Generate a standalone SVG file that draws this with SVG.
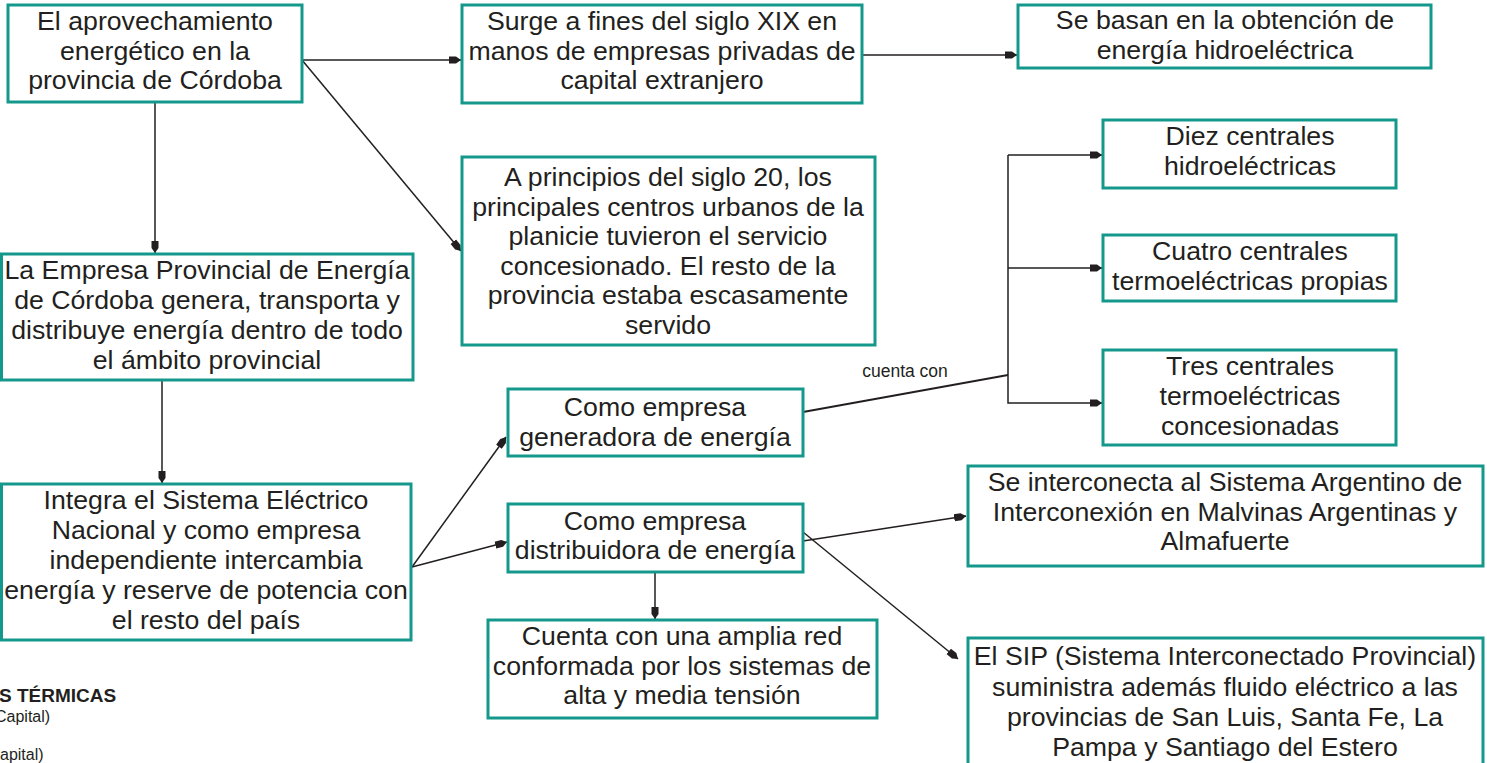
<svg xmlns="http://www.w3.org/2000/svg" width="1487" height="763" viewBox="0 0 1487 763">
<defs>
<style>
.box{fill:#fff;stroke:#14988b;stroke-width:3}
.t{font-family:"Liberation Sans",Arial,sans-serif;font-size:26.7px;fill:#231f20;text-anchor:middle}
.c{fill:none;stroke:#231f20;stroke-width:1.5}
.lbl{font-family:"Liberation Sans",Arial,sans-serif;font-size:17.5px;fill:#231f20;text-anchor:middle}
.side{font-family:"Liberation Sans",Arial,sans-serif;fill:#231f20}
</style>
<marker id="ah" viewBox="0 0 12 10" refX="12" refY="5" markerWidth="12" markerHeight="10" markerUnits="userSpaceOnUse" orient="auto">
<path d="M0,1.5 L7,1.5 L12,5 L7,8.5 L0,8.5 z" fill="#231f20"/>
</marker>
</defs>
<rect width="1487" height="763" fill="#fff"/>

<g id="connectors">
<line class="c" x1="155" y1="102" x2="155" y2="253" marker-end="url(#ah)"/>
<line class="c" x1="302" y1="60" x2="461" y2="60" marker-end="url(#ah)"/>
<line class="c" x1="302" y1="60" x2="461" y2="251" marker-end="url(#ah)"/>
<line class="c" x1="862" y1="55" x2="1017" y2="55" marker-end="url(#ah)"/>
<line class="c" x1="162" y1="380" x2="162" y2="483" marker-end="url(#ah)"/>
<line class="c" x1="412" y1="567" x2="506" y2="437" marker-end="url(#ah)"/>
<line class="c" x1="412" y1="567" x2="507" y2="542" marker-end="url(#ah)"/>
<line class="c" x1="803" y1="541" x2="966" y2="516" marker-end="url(#ah)"/>
<line class="c" x1="803" y1="532" x2="958" y2="659" marker-end="url(#ah)"/>
<line class="c" x1="655" y1="572" x2="655" y2="619" marker-end="url(#ah)"/>
<line class="c" x1="803" y1="412" x2="1008" y2="375" style="stroke-width:2"/>
<polyline class="c" points="1008,155 1008,403 1102,403" marker-end="url(#ah)"/>
<line class="c" x1="1008" y1="155" x2="1102" y2="155" marker-end="url(#ah)"/>
<line class="c" x1="1008" y1="268" x2="1102" y2="268" marker-end="url(#ah)"/>
<text class="lbl" x="905" y="377">cuenta con</text>
</g>

<g id="nodeA">
<rect class="box" x="8" y="5" width="294" height="97"/>
<text class="t" x="155" y="30">El aprovechamiento</text>
<text class="t" x="155" y="59.5">energético en la</text>
<text class="t" x="155" y="89">provincia de Córdoba</text>
</g>

<g id="nodeB">
<rect class="box" x="462" y="5" width="400" height="98"/>
<text class="t" x="662" y="30">Surge a fines del siglo XIX en</text>
<text class="t" x="662" y="59.5">manos de empresas privadas de</text>
<text class="t" x="662" y="89">capital extranjero</text>
</g>

<g id="nodeC">
<rect class="box" x="1018" y="5" width="413" height="63"/>
<text class="t" x="1225" y="29">Se basan en la obtención de</text>
<text class="t" x="1225" y="58.5">energía hidroeléctrica</text>
</g>

<g id="nodeD">
<rect class="box" x="462" y="157" width="413" height="188"/>
<text class="t" x="668" y="186">A principios del siglo 20, los</text>
<text class="t" x="668" y="215.5">principales centros urbanos de la</text>
<text class="t" x="668" y="245">planicie tuvieron el servicio</text>
<text class="t" x="668" y="275">concesionado. El resto de la</text>
<text class="t" x="668" y="304">provincia estaba escasamente</text>
<text class="t" x="668" y="334">servido</text>
</g>

<g id="nodeE">
<rect class="box" x="1103" y="120" width="293" height="68"/>
<text class="t" x="1250" y="145">Diez centrales</text>
<text class="t" x="1250" y="175">hidroeléctricas</text>
</g>

<g id="nodeF">
<rect class="box" x="1103" y="235" width="293" height="66"/>
<text class="t" x="1250" y="260">Cuatro centrales</text>
<text class="t" x="1250" y="290">termoeléctricas propias</text>
</g>

<g id="nodeG">
<rect class="box" x="1103" y="350" width="293" height="95"/>
<text class="t" x="1250" y="375">Tres centrales</text>
<text class="t" x="1250" y="405">termoeléctricas</text>
<text class="t" x="1250" y="435">concesionadas</text>
</g>

<g id="nodeH">
<rect class="box" x="1.5" y="254" width="411.5" height="126"/>
<text class="t" x="207" y="279">La Empresa Provincial de Energía</text>
<text class="t" x="207" y="309">de Córdoba genera, transporta y</text>
<text class="t" x="207" y="339">distribuye energía dentro de todo</text>
<text class="t" x="207" y="369">el ámbito provincial</text>
</g>

<g id="nodeI">
<rect class="box" x="508" y="389" width="295" height="67"/>
<text class="t" x="655" y="416">Como empresa</text>
<text class="t" x="655" y="446">generadora de energía</text>
</g>

<g id="nodeJ">
<rect class="box" x="1.5" y="484" width="409.5" height="156"/>
<text class="t" x="206" y="509">Integra el Sistema Eléctrico</text>
<text class="t" x="206" y="539">Nacional y como empresa</text>
<text class="t" x="206" y="569">independiente intercambia</text>
<text class="t" x="206" y="599">energía y reserve de potencia con</text>
<text class="t" x="206" y="629">el resto del país</text>
</g>

<g id="nodeK">
<rect class="box" x="508" y="504" width="295" height="68"/>
<text class="t" x="655" y="530">Como empresa</text>
<text class="t" x="655" y="559">distribuidora de energía</text>
</g>

<g id="nodeL">
<rect class="box" x="968" y="466" width="515" height="100"/>
<text class="t" x="1225" y="491">Se interconecta al Sistema Argentino de</text>
<text class="t" x="1225" y="521">Interconexión en Malvinas Argentinas y</text>
<text class="t" x="1225" y="550">Almafuerte</text>
</g>

<g id="nodeM">
<rect class="box" x="488" y="620" width="389" height="98"/>
<text class="t" x="682" y="645">Cuenta con una amplia red</text>
<text class="t" x="682" y="675">conformada por los sistemas de</text>
<text class="t" x="682" y="704">alta y media tensión</text>
</g>

<g id="nodeN">
<rect class="box" x="968" y="638" width="515" height="128"/>
<text class="t" x="1225" y="665">El SIP (Sistema Interconectado Provincial)</text>
<text class="t" x="1225" y="696">suministra además fluido eléctrico a las</text>
<text class="t" x="1225" y="726">provincias de San Luis, Santa Fe, La</text>
<text class="t" x="1225" y="756">Pampa y Santiago del Estero</text>
</g>

<g id="side">
<text class="side" x="-1" y="702" font-size="19" font-weight="bold">S TÉRMICAS</text>
<text class="side" x="-5" y="722" font-size="16">Capital)</text>
<text class="side" x="0" y="760" font-size="16">apital)</text>
</g>
</svg>
